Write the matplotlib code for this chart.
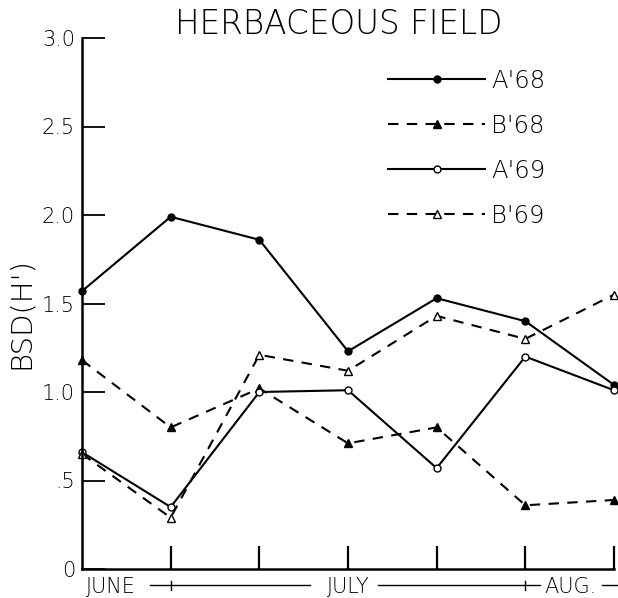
import matplotlib as _mpl
_mpl.use("Agg")
import numpy as np
import matplotlib.pyplot as plt

# sampling dates (7 visits, June -> August)
visits = np.arange(7)
a68 = [1.57, 1.99, 1.86, 1.23, 1.53, 1.40, 1.04]
b68 = [1.18, 0.80, 1.02, 0.71, 0.80, 0.36, 0.39]
a69 = [0.66, 0.35, 1.00, 1.01, 0.57, 1.20, 1.01]
b69 = [0.65, 0.29, 1.21, 1.12, 1.43, 1.30, 1.55]
labels = ["A'68", "B'68", "A'69", "B'69"]
y_ticks = [0, 0.5, 1.0, 1.5, 2.0, 2.5, 3.0]
y_ticklabels = ["0", ".5", "1.0", "1.5", "2.0", "2.5", "3.0"]
months = ["JUNE", "JULY", "AUG."]

plt.rcParams['font.family'] = ['DejaVu Sans']

fig = plt.figure(figsize=(6.18, 5.98), dpi=100)
ax = fig.add_axes([82 / 618, 29 / 598, 532 / 618, 531 / 598])

dash = (0, (5, 4))
ax.plot(visits, a68, color='black', lw=1.5, marker='o', ms=5,
        mfc='black', label=labels[0], clip_on=False)
ax.plot(visits, b68, color='black', lw=1.5, ls=dash, marker='^', ms=5.5,
        mfc='black', label=labels[1], clip_on=False)
ax.plot(visits, a69, color='black', lw=1.5, marker='o', ms=5,
        mfc='white', label=labels[2], clip_on=False)
ax.plot(visits, b69, color='black', lw=1.5, ls=dash, marker='^', ms=5.5,
        mfc='white', label=labels[3], clip_on=False)

ax.set_xlim(0, 6)
ax.set_ylim(0, 3)
for s in ['top', 'right']:
    ax.spines[s].set_visible(False)
for s in ['left', 'bottom']:
    ax.spines[s].set_linewidth(1.8)

ax.set_yticks(y_ticks)
ax.set_yticklabels(y_ticklabels, fontsize=15, fontweight='light')
ax.set_xticks(visits[1:])
ax.set_xticklabels([])
ax.tick_params(axis='y', direction='in', length=16.5, width=1.3, pad=5)
ax.tick_params(axis='x', direction='in', length=16.5, width=1.6)

# month labels under the axis
tr = ax.get_xaxis_transform()
yy = -0.031
ax.text(0.04, yy - 0.003, months[0], transform=tr, fontsize=15,
        ha='left', va='center', fontweight='light')
ax.text(3.0, yy - 0.003, months[1], transform=tr, fontsize=15,
        ha='center', va='center', fontweight='light')
ax.text(5.22, yy - 0.003, months[2], transform=tr, fontsize=15,
        ha='left', va='center', fontweight='light')
for x0, x1 in [(0.77, 2.57), (3.34, 5.17), (5.86, 6.05)]:
    ax.plot([x0, x1], [yy, yy], transform=tr, color='black', lw=1,
            clip_on=False)
for xm in [1, 5]:
    ax.plot([xm, xm], [yy - 0.008, yy + 0.008], transform=tr,
            color='black', lw=1, clip_on=False)

fig.text(339 / 618, 1 - 24 / 598, "HERBACEOUS FIELD", fontsize=23.5,
         ha='center', va='center', fontweight='light')
fig.text(21 / 618, 1 - 313 / 598, "BSD(H')", fontsize=21, rotation=90,
         ha='center', va='center', fontweight='light')

leg = ax.legend(loc='upper left', bbox_to_anchor=(388 / 618, 1 - 69 / 598),
                bbox_transform=fig.transFigure, frameon=False, fontsize=17.5,
                handlelength=4.0, handletextpad=0.25, labelspacing=0.86,
                borderpad=0, borderaxespad=0, numpoints=1)
for t in leg.get_texts():
    t.set_fontweight('light')

fig.savefig("out.png", dpi=100)
